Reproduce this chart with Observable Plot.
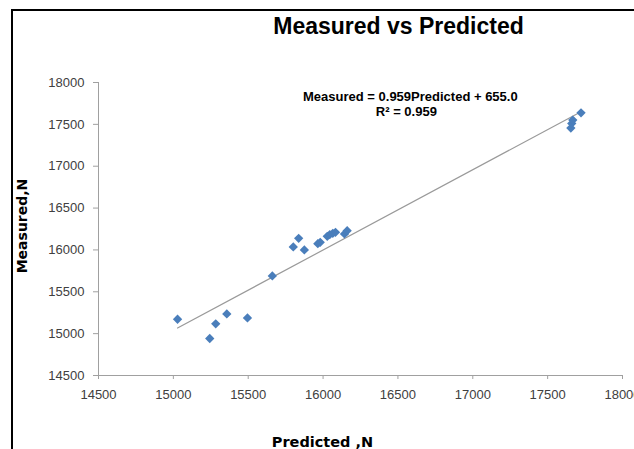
<!DOCTYPE html>
<html>
<head>
<meta charset="utf-8">
<script src="https://cdn.jsdelivr.net/npm/d3@7"></script>
<script src="https://cdn.jsdelivr.net/npm/@observablehq/plot@0.6"></script>
<style>
  html, body { margin: 0; padding: 0; background: #fff; }
  #wrap { position: relative; width: 634px; height: 449px; overflow: hidden; }
  #border { position: absolute; left: 11px; top: 9px; width: 640px; height: 460px;
            border-left: 2px solid #000; border-top: 2px solid #000; box-sizing: border-box; }
  #chart { position: absolute; left: 0; top: 0; }
</style>
</head>
<body>
<div id="wrap"><div id="chart"></div><div id="border"></div></div>
<script>
// Data
const predicted = [15028, 15243, 15283, 15357, 15495, 15661, 15801, 15837, 15875, 15965, 15981, 16028, 16045, 16065, 16083, 16143, 16161, 17655, 17661, 17668, 17723];
const measured  = [15172, 14942, 15117, 15236, 15188, 15690, 16036, 16139, 16000, 16075, 16091, 16162, 16183, 16198, 16210, 16191, 16230, 17456, 17511, 17551, 17638];
const slope = 0.959;
const intercept = 655.0;
const xTicks = [14500, 15000, 15500, 16000, 16500, 17000, 17500, 18000];
const yTicks = [14500, 15000, 15500, 16000, 16500, 17000, 17500, 18000];
const titleText = "Measured vs Predicted";
const eqText = "Measured = 0.959Predicted + 655.0";
const r2Text = "R² = 0.959";
const xLabel = "Predicted ,N";
const yLabel = "Measured,N";
const eqPos = {x: 16583, y: 17817};

const points = predicted.map((p, i) => ({p, m: measured[i]}));
const x0 = d3.min(predicted), x1 = d3.max(predicted);
const trend = [{p: x0, m: slope * x0 + intercept}, {p: x1, m: slope * x1 + intercept}];

const font = "'Liberation Sans', Arial, sans-serif";

const chart = Plot.plot({
  width: 634,
  height: 449,
  marginLeft: 98,
  marginRight: 12,
  marginTop: 82,
  marginBottom: 74,
  style: {fontFamily: font, fontSize: "13px", color: "#404040", background: "transparent"},
  x: {domain: [14500, 18000], ticks: xTicks, tickFormat: d => String(d), label: null},
  y: {domain: [14500, 18000], ticks: yTicks, tickFormat: d => String(d), label: null},
  marks: [
    Plot.ruleY([14500], {stroke: "#a0a0a0"}),
    Plot.ruleX([14500], {stroke: "#a0a0a0"}),
    Plot.axisX({ticks: xTicks, tickSize: 4, tickPadding: 10, stroke: "#a0a0a0", fill: "#404040", tickFormat: d => String(d), label: null, fontSize: 13}),
    Plot.axisY({ticks: yTicks, tickSize: 5, tickPadding: 9, stroke: "#a0a0a0", fill: "#404040", tickFormat: d => String(d), label: null, fontSize: 13}),
    Plot.line(trend, {x: "p", y: "m", stroke: "#9a9a9a", strokeWidth: 1.2}),
    Plot.dot(points, {x: "p", y: "m", symbol: "diamond2", r: 4.2, fill: "#4a7ebb", stroke: "none"}),
    Plot.text([titleText], {frameAnchor: "top", dy: -65, dx: 38, text: d => d, fontSize: 23, fontWeight: "bold", fill: "#000"}),
    Plot.text([eqText], {x: () => eqPos.x, y: () => eqPos.y, dy: -1, text: d => d, fontSize: 13, fontWeight: "bold", fill: "#000"}),
    Plot.text([r2Text], {x: () => eqPos.x, y: () => eqPos.y, dy: 14, dx: -4, text: d => d, fontSize: 13, fontWeight: "bold", fill: "#000"}),
    Plot.text([xLabel], {frameAnchor: "bottom", dy: 71, dx: -38, text: d => d, fontSize: 14.5, fontWeight: "bold", fill: "#000", fontFamily: "'DejaVu Sans', sans-serif"}),
    Plot.text([yLabel], {frameAnchor: "left", textAnchor: "middle", dx: -76, dy: -3, rotate: -90, text: d => d, fontSize: 14, fontWeight: "bold", fill: "#000", fontFamily: "'DejaVu Sans', sans-serif"})
  ]
});
document.getElementById("chart").appendChild(chart);
</script>
</body>
</html>
